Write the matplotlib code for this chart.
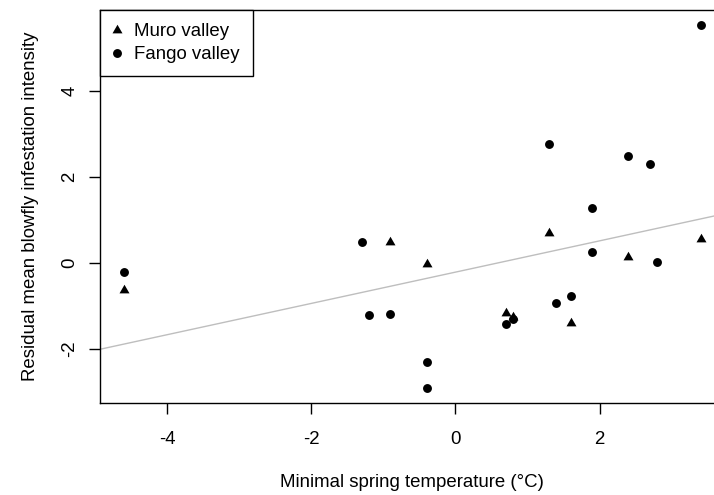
import numpy as np
import matplotlib.pyplot as plt

plt.rcParams['font.family'] = ['Liberation Sans', 'DejaVu Sans']
plt.rcParams['axes.unicode_minus'] = False

# --- data ---
muro_temp = [-4.6, -0.9, -0.4, 0.7, 0.8, 1.3, 1.6, 2.4, 3.4]
muro_resid = [-0.64, 0.49, -0.03, -1.18, -1.27, 0.68, -1.40, 0.13, 0.54]

fango_temp = [-4.6, -1.3, -1.2, -0.9, -0.4, -0.4, 0.7, 0.8, 1.3, 1.4,
              1.6, 1.9, 1.9, 2.4, 2.7, 2.8, 3.4]
fango_resid = [-0.21, 0.47, -1.22, -1.20, -2.32, -2.92, -1.42, -1.32, 2.76, -0.94,
               -0.77, 1.27, 0.25, 2.47, 2.30, 0.02, 5.53]

fit_intercept = -0.22
fit_slope = 0.364

x_ticks = [-4, -2, 0, 2]
y_ticks = [-2, 0, 2, 4]

FS = 13.4

# R style equilateral triangle (pch 17), centred on its centroid
tri = [(0, 1), (-0.866, -0.5), (0.866, -0.5)]

fig = plt.figure(figsize=(7.14, 4.95), dpi=100)
ax = fig.add_axes([0.1401, 0.1865, 0.8734, 0.7933])

ax.axline((0, fit_intercept), slope=fit_slope, color='#BEBEBE', linewidth=1.0, zorder=1)
ax.plot(muro_temp, muro_resid, linestyle='none', marker=tri, markersize=8.3,
        color='black', markeredgewidth=0, label='Muro valley', zorder=3)
ax.plot(fango_temp, fango_resid, linestyle='none', marker='o', markersize=6.4,
        color='black', markeredgewidth=0, label='Fango valley', zorder=3)

ax.set_xlim(-4.928, 3.72)
ax.set_ylim(-3.256, 5.877)

ax.set_xticks(x_ticks)
ax.set_xticklabels([str(t) for t in x_ticks], fontsize=FS)
ax.set_yticks(y_ticks)
ax.set_yticklabels([str(t) for t in y_ticks], fontsize=FS, rotation=90, va='center')
ax.tick_params(axis='x', length=7.7, width=1.0, pad=13)
ax.tick_params(axis='y', length=7.7, width=1.0, pad=8)

for s in ax.spines.values():
    s.set_linewidth(1.0)

ax.set_xlabel('Minimal spring temperature (°C)', fontsize=FS)
ax.xaxis.set_label_coords(0.5, -0.182)
ax.set_ylabel('Residual mean blowfly infestation intensity', fontsize=FS)
ax.yaxis.set_label_coords(-0.098, 0.5)

leg = ax.legend(loc='upper left', bbox_to_anchor=(0, 1), borderaxespad=0,
                fontsize=FS, fancybox=False, edgecolor='black', framealpha=1,
                borderpad=0.7, handlelength=0.45, handletextpad=0.68,
                labelspacing=0.32)
leg.get_frame().set_linewidth(1.0)

fig.savefig('out.png', dpi=100)
